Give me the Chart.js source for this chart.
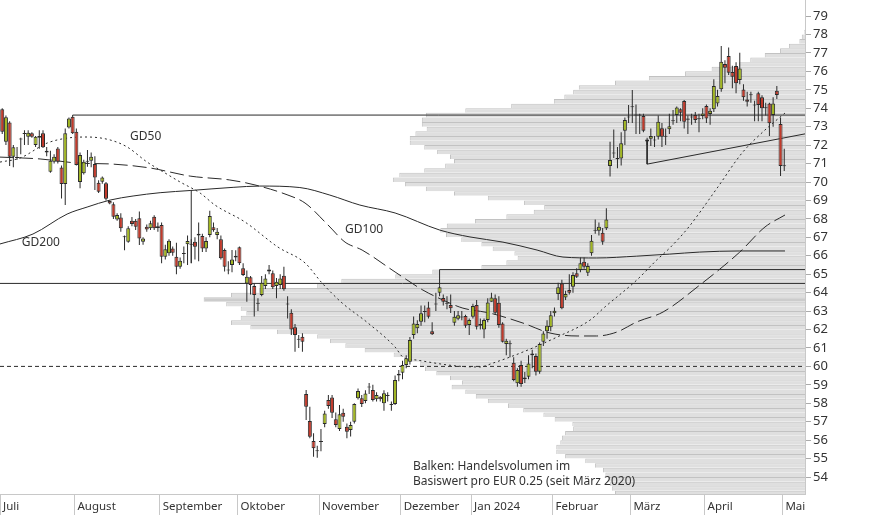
<!DOCTYPE html>
<html>
<head>
<meta charset="utf-8">
<script src="https://cdn.jsdelivr.net/npm/chart.js@4"></script>
<style>
  html, body { margin: 0; padding: 0; background: #fff; }
  #wrap { width: 874px; height: 515px; }
</style>
</head>
<body>
<div id="wrap"><canvas id="chart"></canvas></div>
<script>
// x = trading day index (0 = 3 Jul 2023), first candle is day 1
const firstDay = 1;

const open = [
  73.94, 72.18, 73.22, 71.37, 71.3, 72.3, 72.6, 72.45, 72.64, 72.0,
  72.4, 72.64, 71.6, 70.56, 71.1, 71.82, 70.79, 69.89, 72.96, 73.54,
  72.73, 70.0, 70.47, 71.1, 71.15, 70.97, 69.96, 70.01, 69.93, 68.97,
  68.8, 67.97, 68.08, 67.0, 66.76, 67.9, 67.9, 68.03, 66.76, 67.57,
  67.49, 68.12, 67.5, 67.67, 65.95, 66.13, 66.4, 65.95, 65.4, 66.1,
  66.62, 66.6, 66.76, 67.1, 67.07, 66.4, 67.12, 67.54, 67.12, 66.89,
  66.31, 65.2, 65.5, 65.9, 66.46, 65.32, 64.5, 64.83, 64.36, 63.4,
  63.87, 64.36, 65.26, 65.05, 64.36, 64.41, 64.92, 63.4, 62.91, 62.12,
  61.5, 61.61, 58.5, 57.04, 55.95, 55.4, 55.9, 56.88, 58.18, 58.32,
  57.13, 56.6, 57.49, 56.73, 56.55, 57.0, 58.27, 58.27, 58.13, 58.9,
  58.72, 58.22, 58.36, 58.0, 58.4, 57.9, 57.96, 59.5, 59.66, 60.07,
  60.25, 61.7, 62.07, 62.42, 63.0, 63.2, 61.9, 63.4, 64.0, 63.71,
  63.4, 63.33, 62.37, 62.58, 62.65, 62.73, 62.24, 62.69, 63.33, 62.2,
  62.0, 62.51, 63.51, 63.69, 63.45, 62.33, 61.21, 61.2, 60.2, 59.08,
  60.07, 59.3, 59.44, 60.6, 60.56, 59.71, 61.34, 61.9, 62.12, 62.88,
  63.92, 64.5, 63.74, 64.14, 64.32, 65.05, 65.23, 65.68, 65.08, 66.13,
  67.35, 67.36, 67.25, 67.49, 70.87, 71.55, 71.3, 71.28, 72.78, 73.5,
  74.1, 73.6, 73.65, 73.58, 72.2, 72.34, 72.25, 72.45, 72.91, 72.45,
  72.86, 73.3, 73.63, 73.94, 74.39, 73.37, 73.5, 73.63, 73.45, 73.58,
  74.12, 73.69, 73.94, 74.26, 75.03, 76.4, 76.83, 75.96, 76.29, 75.53,
  75.02, 74.48, 74.7, 74.2, 74.81, 74.59, 74.05, 74.26, 73.63, 74.95,
  73.14, 70.9
];
const high = [
  74.0, 73.6, 73.3, 72.0, 71.9, 72.4, 72.8, 72.8, 72.7, 72.5,
  72.8, 72.8, 71.9, 71.7, 71.5, 71.9, 70.9, 72.9, 73.5, 73.63,
  72.9, 71.6, 71.2, 71.73, 71.6, 71.4, 70.1, 70.3, 70.0, 69.0,
  68.9, 68.3, 68.3, 67.1, 67.6, 68.1, 68.0, 68.4, 67.0, 67.7,
  67.9, 68.2, 67.8, 67.8, 66.6, 66.9, 66.5, 66.7, 65.9, 66.5,
  67.1, 66.9, 67.0, 67.8, 67.2, 67.0, 68.44, 67.8, 67.5, 67.1,
  66.4, 65.7, 66.31, 66.3, 66.5, 65.6, 65.2, 64.9, 64.5, 63.7,
  64.9, 65.0, 65.5, 65.2, 64.8, 65.0, 65.4, 63.8, 63.1, 62.3,
  61.7, 61.8, 58.72, 57.81, 56.37, 55.7, 56.6, 57.6, 58.45, 58.45,
  57.5, 57.9, 57.7, 56.9, 57.0, 58.0, 58.8, 58.45, 58.7, 59.1,
  59.0, 58.6, 58.4, 58.7, 58.6, 58.1, 59.5, 59.8, 60.3, 60.6,
  61.6, 62.7, 62.5, 63.3, 63.3, 63.5, 62.4, 64.0, 64.4, 63.9,
  63.8, 63.9, 63.0, 63.0, 63.0, 62.8, 62.6, 63.4, 63.6, 62.6,
  62.6, 63.7, 64.0, 63.9, 63.8, 62.4, 61.5, 61.4, 60.5, 59.9,
  60.3, 59.7, 60.6, 60.9, 60.7, 61.3, 61.9, 62.5, 63.0, 63.2,
  64.54, 64.7, 64.1, 65.0, 65.1, 65.32, 65.9, 65.9, 65.6, 67.12,
  67.97, 67.8, 67.5, 68.57, 72.18, 72.85, 71.9, 72.7, 73.5, 74.17,
  74.99, 74.2, 73.7, 73.7, 72.4, 72.9, 72.5, 73.6, 73.2, 72.9,
  73.7, 73.9, 74.1, 74.0, 74.45, 73.6, 73.7, 73.8, 73.7, 74.0,
  74.2, 74.0, 75.57, 75.0, 77.37, 76.6, 77.3, 76.3, 76.5, 77.01,
  75.3, 74.9, 74.9, 74.4, 74.9, 74.7, 74.3, 74.3, 74.6, 75.2,
  73.5, 71.8
];
const low = [
  72.6, 72.0, 70.87, 70.8, 71.2, 71.5, 72.0, 72.0, 72.4, 71.9,
  71.8, 71.85, 71.4, 70.5, 71.0, 71.0, 69.11, 68.75, 72.9, 72.6,
  70.9, 69.66, 70.4, 70.83, 70.8, 69.56, 69.4, 69.9, 69.0, 68.8,
  68.0, 67.9, 67.3, 66.3, 66.7, 67.6, 67.4, 66.58, 66.6, 67.3,
  67.4, 67.4, 67.3, 65.59, 65.8, 66.0, 66.0, 65.0, 65.3, 65.6,
  65.5, 65.6, 65.8, 65.7, 66.2, 66.2, 67.0, 67.3, 66.9, 65.8,
  65.14, 65.0, 65.1, 65.7, 65.5, 64.9, 63.51, 63.9, 62.7, 63.0,
  63.8, 64.2, 65.0, 64.2, 63.69, 64.2, 64.1, 62.6, 61.7, 60.8,
  61.0, 60.8, 57.09, 56.1, 55.1, 55.05, 55.4, 56.7, 57.7, 57.2,
  56.7, 56.5, 57.0, 56.1, 56.2, 56.9, 58.2, 57.8, 58.0, 58.5,
  58.1, 58.1, 58.1, 57.6, 58.1, 57.6, 57.9, 59.2, 59.3, 59.9,
  60.1, 61.5, 61.8, 62.2, 62.4, 62.6, 61.7, 63.0, 63.8, 63.3,
  63.1, 62.9, 62.2, 62.5, 62.5, 62.1, 61.7, 62.6, 62.0, 62.0,
  61.52, 62.4, 63.5, 62.8, 62.1, 61.3, 60.6, 60.5, 59.2, 58.9,
  58.9, 59.1, 59.3, 59.9, 59.5, 59.6, 61.1, 61.5, 61.9, 62.7,
  63.6, 63.1, 63.6, 63.9, 64.0, 64.8, 65.1, 65.3, 64.9, 66.0,
  67.2, 67.1, 66.6, 67.4, 70.3, 71.3, 70.74, 70.9, 72.0, 73.2,
  73.2, 72.6, 72.6, 72.7, 72.0, 71.95, 71.9, 72.3, 71.9, 72.0,
  72.6, 73.1, 73.2, 73.3, 72.9, 72.6, 73.1, 73.2, 72.7, 73.4,
  73.2, 73.1, 73.8, 74.1, 74.9, 75.35, 75.8, 75.08, 74.81, 75.3,
  74.4, 74.1, 74.3, 73.3, 73.3, 73.3, 73.6, 72.5, 73.0, 74.5,
  70.32, 70.6
];
const close = [
  72.73, 73.51, 71.37, 71.88, 71.35, 72.35, 72.65, 72.67, 72.45, 72.45,
  72.5, 71.88, 71.7, 71.15, 71.37, 71.1, 69.89, 72.64, 73.45, 72.64,
  70.92, 71.46, 71.1, 71.15, 71.37, 70.25, 69.47, 70.25, 69.09, 68.84,
  68.12, 68.21, 67.49, 67.05, 67.49, 67.72, 67.57, 66.94, 66.94, 67.43,
  67.76, 67.49, 67.6, 65.95, 66.35, 66.81, 66.16, 65.4, 65.73, 66.15,
  66.8, 66.65, 66.49, 67.2, 66.4, 66.8, 68.15, 67.39, 67.3, 65.86,
  65.4, 65.25, 65.8, 66.0, 65.59, 64.95, 64.86, 64.41, 63.87, 63.45,
  64.54, 64.77, 65.14, 64.29, 64.59, 64.77, 64.18, 63.35, 62.0, 61.7,
  61.45, 61.34, 57.81, 56.19, 55.56, 55.45, 55.95, 57.45, 57.85, 57.49,
  56.82, 57.4, 57.27, 56.46, 56.82, 57.96, 58.66, 57.96, 58.53, 58.85,
  58.18, 58.45, 58.22, 58.54, 58.45, 57.95, 59.26, 59.6, 60.07, 60.44,
  61.43, 62.33, 62.3, 62.88, 62.95, 62.69, 61.74, 63.35, 64.29, 63.51,
  63.45, 63.15, 62.69, 62.78, 62.7, 62.2, 62.51, 63.27, 62.15, 62.3,
  62.51, 63.47, 63.74, 62.91, 62.24, 61.34, 61.39, 61.25, 59.26, 59.8,
  59.04, 59.4, 60.16, 60.7, 59.71, 61.21, 61.79, 62.2, 62.78, 63.02,
  64.29, 63.15, 63.92, 64.0, 64.95, 64.86, 65.59, 65.41, 65.44, 66.81,
  67.4, 67.57, 66.76, 67.97, 71.19, 71.6, 71.25, 72.1, 73.36, 73.55,
  74.05, 73.65, 73.6, 72.78, 72.3, 72.5, 72.3, 73.27, 72.45, 72.5,
  73.03, 73.35, 74.04, 73.76, 73.27, 73.45, 73.55, 73.36, 73.4, 73.72,
  73.45, 73.86, 75.2, 74.66, 76.52, 76.2, 75.93, 75.71, 75.35, 76.16,
  74.59, 74.35, 74.75, 74.15, 74.17, 74.0, 74.0, 73.18, 74.26, 74.72,
  70.87, 70.85
];

// moving averages at sample days
const gd50Day = [0.4, 5.8, 13.1, 18.5, 23.9, 30.1, 34.7, 40.1, 43.6, 49, 54.4, 58.4, 66.5, 75.4, 82.7, 87.3, 92.7, 99.7, 107, 109.1, 112.9, 123.7, 129.9, 133.4, 141.5, 150.7, 159.6, 163.6, 172.2, 177.6, 181.1, 186, 194.1, 200.6, 206.8, 212.2];
const gd50Val = [71.08, 71.3, 72.11, 72.38, 72.44, 72.28, 71.9, 71.08, 70.65, 70.0, 69.4, 68.75, 67.83, 66.47, 65.61, 64.52, 63.44, 62.35, 61.05, 60.51, 60.34, 60.02, 59.97, 60.18, 60.78, 61.59, 62.51, 63.22, 64.68, 65.77, 66.42, 67.5, 69.73, 71.57, 72.82, 73.74];
const gd100Day = [0.4, 11.2, 21.2, 30.9, 40.9, 51.7, 62.4, 69.2, 78.1, 82.7, 88.9, 93.5, 98.1, 107, 114.5, 119.9, 125.3, 132.6, 141.5, 148.8, 156.1, 161.4, 166.8, 172.2, 179.3, 189.2, 200, 206.8, 212.2];
const gd100Val = [71.35, 71.25, 71.03, 70.97, 70.76, 70.32, 70.11, 69.84, 69.29, 68.86, 67.67, 66.74, 66.31, 65.12, 64.14, 63.6, 63.16, 62.89, 62.35, 61.81, 61.65, 61.65, 61.86, 62.41, 62.95, 64.41, 66.2, 67.56, 68.21];
const gd200Day = [0.4, 9.3, 18.5, 23.9, 30.1, 36.3, 43.6, 51.9, 63.3, 70.5, 81.3, 89.4, 97.5, 107, 119.1, 127.2, 136.1, 145.3, 152.3, 161.4, 172.2, 181.1, 189.2, 200, 212.2];
const gd200Val = [66.64, 67.18, 68.26, 68.64, 69.02, 69.24, 69.42, 69.54, 69.71, 69.78, 69.7, 69.29, 68.75, 68.32, 67.39, 67.02, 66.74, 66.31, 65.93, 65.88, 65.98, 66.09, 66.2, 66.26, 66.26];

// volume profile: band lower edge (EUR) and relative volume (% of scale)
const binSize = 0.25;
const bandLow = [
  53.0, 53.25, 53.5, 53.75, 54.0, 54.25, 54.5, 54.75, 55.0, 55.25,
  55.5, 55.75, 56.0, 56.25, 56.5, 56.75, 57.0, 57.25, 57.5, 57.75,
  58.0, 58.25, 58.5, 58.75, 59.0, 59.25, 59.5, 59.75, 60.0, 60.25,
  60.5, 60.75, 61.0, 61.25, 61.5, 61.75, 62.0, 62.25, 62.5, 62.75,
  63.0, 63.25, 63.5, 63.75, 64.0, 64.25, 64.5, 64.75, 65.0, 65.25,
  65.5, 65.75, 66.0, 66.25, 66.5, 66.75, 67.0, 67.25, 67.5, 67.75,
  68.0, 68.25, 68.5, 68.75, 69.0, 69.25, 69.5, 69.75, 70.0, 70.25,
  70.5, 70.75, 71.0, 71.25, 71.5, 71.75, 72.0, 72.25, 72.5, 72.75,
  73.0, 73.25, 73.5, 73.75, 74.0, 74.25, 74.5, 74.75, 75.0, 75.25,
  75.5, 75.75, 76.0, 76.25, 76.5, 76.75, 77.0, 77.25, 77.5, 77.75,
  78.0
];
const bandVol = [
  23.6, 24.0, 24.2, 24.5, 24.8, 25.1, 26.1, 27.3, 29.8, 30.9,
  30.9, 30.4, 30.2, 29.8, 28.8, 28.9, 31.1, 32.5, 35.0, 36.9,
  39.4, 40.9, 42.2, 43.9, 42.6, 44.1, 45.8, 47.2, 47.8, 49.1,
  51.1, 54.7, 57.1, 59.0, 60.6, 65.6, 68.9, 71.3, 70.1, 69.4,
  70.1, 71.9, 74.7, 71.3, 67.8, 60.6, 57.6, 50.9, 46.3, 40.2,
  37.1, 35.7, 36.1, 38.8, 40.2, 42.7, 44.6, 45.3, 44.5, 41.0,
  37.1, 33.7, 32.4, 34.9, 39.4, 43.6, 47.1, 49.7, 51.2, 50.4,
  47.3, 44.7, 43.6, 44.1, 45.7, 47.3, 49.1, 49.1, 48.4, 47.0,
  47.6, 47.6, 47.1, 42.2, 36.5, 31.2, 29.9, 28.8, 28.1, 23.6,
  19.4, 14.9, 11.6, 8.2, 6.8, 5.0, 3.1, 2.0, 0.7, 0.4,
  0.1
];

// drawn lines: [day, price] points
const resistLine = [[20, 73.63], [217.6, 73.63]];
const supportLine = [[0.4, 64.5], [217.6, 64.5]];
const boxLine = [[119, 64.4], [119, 65.25], [217.6, 65.25]];
const sixtyLine = [[0.4, 60.0], [217.6, 60.0]];
const trendLine = [[175, 72.28], [175, 70.97], [217.6, 72.61]];
const markLine = [[52, 65.6], [52, 69.54]];

// axes
const dayMin = 0.4, dayMax = 217.6;
const priceMin = 53.08, priceMax = 79.87;
const yTicks = [54, 55, 56, 57, 58, 59, 60, 61, 62, 63, 64, 65, 66, 67, 68, 69, 70, 71, 72, 73, 74, 75, 76, 77, 78, 79];
const monthStart = [0.4, 20.5, 43.5, 64.5, 86.5, 108.5, 127.5, 149.5, 170.5, 190.5, 211.5];
const monthNames = ['Juli', 'August', 'September', 'Oktober', 'November', 'Dezember', 'Jan 2024', 'Februar', 'März', 'April', 'Mai'];

const notes = [
  { text: 'GD50', day: 35.5, price: 72.44 },
  { text: 'GD200', day: 6.3, price: 66.69 },
  { text: 'GD100', day: 93.5, price: 67.4 },
  { text: 'Balken: Handelsvolumen im', day: 111.8, price: 54.55 },
  { text: 'Basiswert pro EUR 0.25 (seit März 2020)', day: 111.8, price: 53.73 }
];

const green = '#a2b720';
const red = '#c23a2b';
const ink = '#2a2a2a';
const fontFamily = '"Noto Sans", "Open Sans", sans-serif';

Chart.defaults.font.family = fontFamily;

const wicks = [], bodies = [], bodyColors = [];
open.forEach((o, k) => {
  const day = firstDay + k;
  wicks.push({ x: day, y: [low[k], high[k]] });
  bodies.push({ x: day, y: [Math.min(o, close[k]), Math.max(o, close[k])] });
  bodyColors.push(close[k] >= o ? green : red);
});

const maxVol = Math.max(...bandVol);
const profile = bandLow.map((p, k) => ({ x: bandVol[k], y: p + binSize / 2 }));

const toPts = (pairs) => pairs.map(([d, p]) => ({ x: d, y: p }));
const series = (days, vals) => days.map((d, k) => ({ x: d, y: vals[k] }));

function lineSet(data, dash, extra) {
  return Object.assign({
    type: 'line',
    xAxisID: 'x',
    yAxisID: 'yc',
    data,
    borderColor: ink,
    borderWidth: 1,
    borderDash: dash,
    pointRadius: 0,
    fill: false,
    tension: 0,
    order: 5
  }, extra || {});
}

const notesPlugin = {
  id: 'notes',
  afterDatasetsDraw(chart) {
    const { ctx, scales } = chart;
    ctx.save();
    ctx.font = '12px ' + fontFamily;
    ctx.fillStyle = '#333';
    ctx.textAlign = 'left';
    ctx.textBaseline = 'middle';
    notes.forEach(n => {
      ctx.fillText(n.text, scales.x.getPixelForValue(n.day), scales.yc.getPixelForValue(n.price));
    });
    ctx.restore();
  }
};

new Chart(document.getElementById('chart'), {
  type: 'bar',
  data: {
    datasets: [
      {
        type: 'bar',
        indexAxis: 'y',
        xAxisID: 'xv',
        yAxisID: 'y',
        data: profile,
        backgroundColor: bandVol.map(v => v === maxVol ? '#cccccc' : '#dfdfdf'),
        borderColor: '#c2c2c2',
        borderWidth: { top: 1, left: 1, bottom: 0, right: 0 },
        borderSkipped: false,
        categoryPercentage: 1,
        barPercentage: 1,
        grouped: false,
        inflateAmount: 0,
        order: 10
      },
      lineSet(series(gd200Day, gd200Val), [], { cubicInterpolationMode: 'monotone' }),
      lineSet(series(gd100Day, gd100Val), [14, 5], { cubicInterpolationMode: 'monotone' }),
      lineSet(series(gd50Day, gd50Val), [2, 3], { cubicInterpolationMode: 'monotone' }),
      lineSet(toPts(resistLine), []),
      lineSet(toPts(supportLine), []),
      lineSet(toPts(boxLine), []),
      lineSet(toPts(sixtyLine), [4, 3]),
      lineSet(toPts(trendLine), []),
      lineSet(toPts(markLine), []),
      {
        type: 'bar',
        xAxisID: 'x',
        yAxisID: 'yc',
        data: wicks,
        backgroundColor: ink,
        barThickness: 1,
        grouped: false,
        inflateAmount: 0,
        order: 2
      },
      {
        type: 'bar',
        xAxisID: 'x',
        yAxisID: 'yc',
        data: bodies,
        backgroundColor: bodyColors,
        borderColor: ink,
        borderWidth: 1,
        borderSkipped: false,
        barThickness: 4,
        minBarLength: 1,
        grouped: false,
        inflateAmount: 0,
        order: 1
      }
    ]
  },
  options: {
    responsive: true,
    maintainAspectRatio: false,
    animation: false,
    devicePixelRatio: 1,
    events: [],
    layout: { padding: 0 },
    plugins: { legend: { display: false }, tooltip: { enabled: false } },
    scales: {
      x: {
        type: 'linear',
        position: 'bottom',
        min: dayMin,
        max: dayMax,
        offset: false,
        afterBuildTicks: s => { s.ticks = monthStart.map(v => ({ value: v })); },
        afterFit: s => { s.height = 21; s.paddingLeft = 0; s.paddingRight = 0; },
        ticks: {
          autoSkip: false,
          maxRotation: 0,
          align: 'start',
          padding: -15,
          color: '#333',
          font: { size: 11.5 },
          callback: (v, k) => ' ' + monthNames[k]
        },
        grid: { drawOnChartArea: false, tickLength: 21, color: '#c8c8c8', offset: false },
        border: { color: '#c8c8c8' }
      },
      xv: {
        type: 'linear',
        axis: 'x',
        display: false,
        reverse: true,
        min: 0,
        max: 100,
        offset: false
      },
      y: {
        type: 'linear',
        position: 'right',
        min: priceMin,
        max: priceMax,
        offset: false,
        afterBuildTicks: s => { s.ticks = yTicks.map(v => ({ value: v })); },
        afterFit: s => { s.width = 69; s.paddingTop = 0; s.paddingBottom = 0; },
        ticks: { padding: 2, color: '#333', font: { size: 13 } },
        grid: { drawOnChartArea: false, tickLength: 6, color: '#aaaaaa', offset: false },
        border: { color: '#c8c8c8' }
      },
      yc: {
        type: 'linear',
        axis: 'y',
        display: false,
        min: priceMin,
        max: priceMax,
        offset: false
      }
    }
  },
  plugins: [notesPlugin]
});
</script>
</body>
</html>
